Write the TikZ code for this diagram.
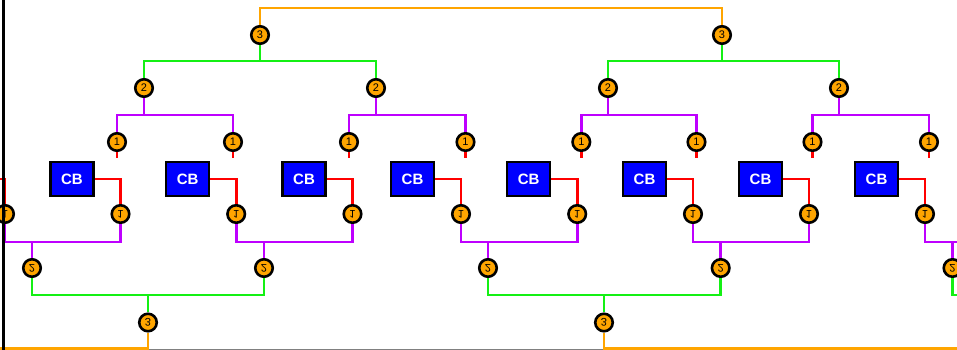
\documentclass[tikz,border=0pt]{standalone}
\usepackage{fontspec}
\setmainfont{Liberation Sans}
\definecolor{lnorange}{RGB}{255,165,0}
\definecolor{lngreen}{RGB}{20,240,20}
\definecolor{lnpurple}{RGB}{190,0,255}
\definecolor{lnred}{RGB}{255,0,0}
\definecolor{cbblue}{RGB}{0,0,255}
\newcommand{\flip}[1]{\rotatebox[origin=c]{180}{\reflectbox{#1}}}

\begin{document}
\begin{tikzpicture}[
    x=1pt, y=-1pt,
    cb/.style={draw, fill=cbblue, line width=2.5pt, minimum width=43pt, minimum height=34pt,
      inner sep=0pt, text=white, font=\fontsize{15}{15}\selectfont\bfseries},
    lvl/.style={draw, circle, fill=lnorange, line width=2.6pt, minimum size=17.5pt, inner sep=0pt,
      font=\fontsize{11}{11}\selectfont},
    wire/.style={line width=2.8pt},
    w0/.style={wire, lnred},
    w1/.style={wire, lnpurple},
    w2/.style={wire, lngreen},
    w3/.style={wire, lnorange},
  ]
  \useasboundingbox (0,0) rectangle (957,350);
  \clip (0,0) rectangle (957,350);

  % upper tree
  \foreach \x [count=\i] in {117,233,349,465.5,581.3,696.5,812.5,929}
    \node[lvl] (t1\i) at (\x,142) {1};
  \foreach \x [count=\i] in {144,376,608,839}
    \node[lvl] (t2\i) at (\x,88) {2};
  \node[lvl] (t31) at (260,35) {3};
  \node[lvl] (t32) at (722,35) {3};

  \foreach \i/\a/\b in {1/1/2,2/3/4,3/5/6,4/7/8} {
    \coordinate (tj\i) at (t2\i |- 0,115);
    \draw[w1] (t1\a.north) |- (tj\i) -| (t1\b.north);
    \draw[w1] (t2\i.south) -- (tj\i);
  }
  \foreach \i/\a/\b in {1/1/2,2/3/4} {
    \coordinate (tk\i) at (t3\i |- 0,61);
    \draw[w2] (t2\a.north) |- (tk\i) -| (t2\b.north);
    \draw[w2] (t3\i.south) -- (tk\i);
  }
  \coordinate (tm) at (491,8);
  \draw[w3] (t31.north) |- (tm) -| (t32.north);
  \foreach \i in {1,...,8}
    \draw[w0] (t1\i.south) -- ++(0,6);

  % breakers
  \foreach \x [count=\i] in {72,187.7,304,412.5,528.7,644.5,760.5,876.5}
    \node[cb] (cb\i) at (\x,179) {CB};

  % lower tree (mirrored)
  \foreach \x [count=\i from 0] in {5,120.5,236.2,352.5,461,577.2,693,809,925}
    \node[lvl] (b1\i) at (\x,214) {\flip{1}};
  \foreach \x [count=\i] in {32,264,488,720.7,952.5}
    \node[lvl] (b2\i) at (\x,268) {\flip{2}};
  \node[lvl] (b31) at (148,322.5) {\flip{3}};
  \node[lvl] (b32) at (604,322.5) {\flip{3}};

  \coordinate (cb0) at (-20,179);
  \draw[w0] (cb0) -| (b10.north);
  \foreach \i in {1,...,8}
    \draw[w0] (cb\i.east) -| (b1\i.north);

  \foreach \i/\a/\b in {1/0/1,2/2/3,3/4/5,4/6/7} {
    \coordinate (bj\i) at (b2\i |- 0,242);
    \draw[w1] (b1\a.south) |- (bj\i) -| (b1\b.south);
    \draw[w1] (b2\i.north) -- (bj\i);
  }
  \coordinate (be1) at (1000,242);
  \draw[w1] (b18.south) |- (be1);
  \draw[w1] (b25.north) -- (b25 |- be1);

  \foreach \i/\a/\b in {1/1/2,2/3/4} {
    \coordinate (bk\i) at (b3\i |- 0,295);
    \draw[w2] (b2\a.south) |- (bk\i) -| (b2\b.south);
    \draw[w2] (b3\i.north) -- (bk\i);
  }
  \coordinate (be2) at (1000,295);
  \draw[w2] (b25.south) |- (be2);

  \draw[gray, line width=1pt] (0,349.5) -- (957,349.5);
  \coordinate (be3) at (-20,348.5);
  \coordinate (be4) at (1000,348.5);
  \draw[w3] (b31.south) |- (be3);
  \draw[w3] (b32.south) |- (be4);

  % frame
  \draw[line width=3pt] (3,0) -- (3,350);
\end{tikzpicture}
\end{document}
